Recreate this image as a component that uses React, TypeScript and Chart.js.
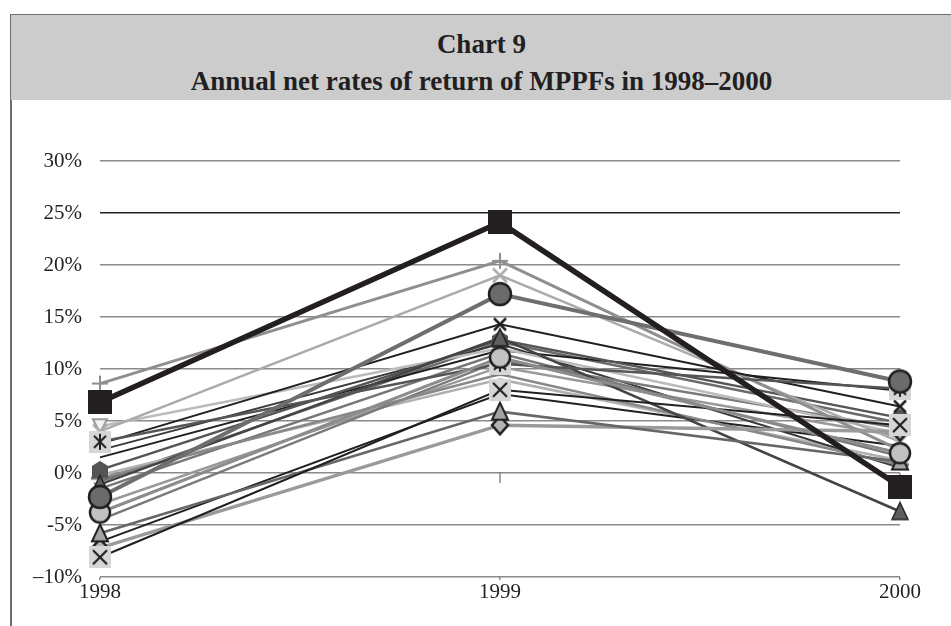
import React, { useEffect, useRef } from "react";
import { Chart, registerables } from "chart.js";

Chart.register(...registerables);

// Years on the category axis
const years = ["1998", "1999", "2000"];

// Y axis range and tick step (per cent)
const yMin = -10;
const yMax = 30;
const yStep = 5;

// Annual net rates of return, % (1998, 1999, 2000)
const fundSquare = [6.8, 24.1, -1.3];
const fundDarkCircle = [-2.3, 17.2, 8.8];
const fundLightCircle = [-3.8, 11.1, 1.9];
const fundBoxCross = [-8.1, 8.0, 4.6];
const fundBoxStar = [3.0, 10.5, 8.1];
const fundTriangle = [-5.8, 5.9, 1.1];
const fundDiamond = [-7.2, 4.6, 4.0];
const fundDarkTriangle = [-1.1, 13.0, -3.7];
const fundCross = [2.8, 14.3, 6.4];
const fundPlus = [8.6, 20.4, 2.2];
const fundLightCross = [4.0, 19.0, 3.0];
const fundPentagon = [0.3, 12.8, 5.3];
const fundInvTriangle = [4.5, 12.0, 3.8];
const fundDash = [-0.5, 9.5, 0.8];
const fundStar = [-1.5, 11.5, 1.6];
const fundA = [1.5, 11.8, 7.9];
const fundB = [-4.5, 10.8, 4.3];
const fundC = [-6.6, 7.6, 2.6];
const fundD = [-3.0, 10.2, 3.5];
const fundE = [2.2, 12.4, 0.5];
const fundF = [-0.2, 9.0, 1.2];
const fundG = [-0.8, 12.6, 4.8];

const INK = "#231f20";

function marker(size: number, draw: (c: CanvasRenderingContext2D, s: number) => void) {
  const cv = document.createElement("canvas");
  cv.width = size;
  cv.height = size;
  const c = cv.getContext("2d")!;
  draw(c, size);
  return cv;
}

function crossShape(c: CanvasRenderingContext2D, s: number, m: number, color: string, w: number) {
  c.strokeStyle = color;
  c.lineWidth = w;
  c.beginPath();
  c.moveTo(m, m);
  c.lineTo(s - m, s - m);
  c.moveTo(s - m, m);
  c.lineTo(m, s - m);
  c.stroke();
}

function plusShape(c: CanvasRenderingContext2D, s: number, m: number, color: string, w: number) {
  c.strokeStyle = color;
  c.lineWidth = w;
  c.beginPath();
  c.moveTo(s / 2, m);
  c.lineTo(s / 2, s - m);
  c.moveTo(m, s / 2);
  c.lineTo(s - m, s / 2);
  c.stroke();
}

function buildMarkers() {
  return {
    square: marker(24, (c, s) => {
      c.fillStyle = INK;
      c.fillRect(0, 0, s, s);
    }),
    darkCircle: marker(26, (c, s) => {
      c.beginPath();
      c.arc(s / 2, s / 2, 11, 0, Math.PI * 2);
      c.fillStyle = "#6b6b6b";
      c.fill();
      c.lineWidth = 2.5;
      c.strokeStyle = INK;
      c.stroke();
    }),
    lightCircle: marker(24, (c, s) => {
      c.beginPath();
      c.arc(s / 2, s / 2, 10, 0, Math.PI * 2);
      c.fillStyle = "#c2c2c2";
      c.fill();
      c.lineWidth = 2.5;
      c.strokeStyle = INK;
      c.stroke();
    }),
    boxCross: marker(22, (c, s) => {
      c.fillStyle = "#d6d6d6";
      c.fillRect(0, 0, s, s);
      crossShape(c, s, 4, INK, 2.2);
    }),
    boxStar: marker(22, (c, s) => {
      c.fillStyle = "#d6d6d6";
      c.fillRect(0, 0, s, s);
      crossShape(c, s, 5, INK, 2);
      c.beginPath();
      c.moveTo(s / 2, 3);
      c.lineTo(s / 2, s - 3);
      c.stroke();
    }),
    triangle: marker(22, (c, s) => {
      c.beginPath();
      c.moveTo(s / 2, 2);
      c.lineTo(s - 3, s - 3);
      c.lineTo(3, s - 3);
      c.closePath();
      c.fillStyle = "#a3a3a3";
      c.fill();
      c.lineWidth = 2;
      c.strokeStyle = INK;
      c.stroke();
    }),
    diamond: marker(22, (c, s) => {
      c.beginPath();
      c.moveTo(s / 2, 2);
      c.lineTo(s - 3, s / 2);
      c.lineTo(s / 2, s - 2);
      c.lineTo(3, s / 2);
      c.closePath();
      c.fillStyle = "#b3b3b3";
      c.fill();
      c.lineWidth = 2.5;
      c.strokeStyle = INK;
      c.stroke();
    }),
    darkTriangle: marker(22, (c, s) => {
      c.beginPath();
      c.moveTo(s / 2, 2);
      c.lineTo(s - 3, s - 3);
      c.lineTo(3, s - 3);
      c.closePath();
      c.fillStyle = "#5e5e5e";
      c.fill();
      c.lineWidth = 1.5;
      c.strokeStyle = INK;
      c.stroke();
    }),
    cross: marker(16, (c, s) => crossShape(c, s, 2, INK, 2.5)),
    plus: marker(18, (c, s) => plusShape(c, s, 1, "#8f8f8f", 2)),
    lightCross: marker(18, (c, s) => crossShape(c, s, 2, "#ababab", 2.5)),
    pentagon: marker(20, (c, s) => {
      c.beginPath();
      c.moveTo(s / 2, 1);
      c.lineTo(s - 2, 6);
      c.lineTo(s - 2, s - 2);
      c.lineTo(2, s - 2);
      c.lineTo(2, 6);
      c.closePath();
      c.fillStyle = "#545454";
      c.fill();
    }),
    invTriangle: marker(18, (c, s) => {
      c.beginPath();
      c.moveTo(2, 2);
      c.lineTo(s - 2, 2);
      c.lineTo(s / 2, s - 2);
      c.closePath();
      c.fillStyle = "#f2f2f2";
      c.fill();
      c.lineWidth = 2;
      c.strokeStyle = "#9a9a9a";
      c.stroke();
    }),
    dash: marker(20, (c, s) => {
      c.fillStyle = "#6f6f6f";
      c.fillRect(1, s / 2 - 1.5, s - 2, 3);
    }),
    star: marker(20, (c, s) => {
      crossShape(c, s, 4, "#8a8a8a", 2);
      c.beginPath();
      c.moveTo(s / 2, 1);
      c.lineTo(s / 2, s - 1);
      c.stroke();
    }),
  };
}

// Short tick marks on the 0% line at each year
const zeroTicks = {
  id: "zeroTicks",
  beforeDatasetsDraw(chart: any) {
    const { ctx, scales } = chart;
    const y0 = scales.y.getPixelForValue(0);
    ctx.save();
    ctx.strokeStyle = "#8a8a8a";
    ctx.lineWidth = 1.5;
    years.forEach((_, i) => {
      const x = scales.x.getPixelForValue(i);
      ctx.beginPath();
      ctx.moveTo(x, y0);
      ctx.lineTo(x, y0 + 10);
      ctx.stroke();
    });
    ctx.restore();
  },
};

export default function App() {
  const ref = useRef<HTMLCanvasElement>(null);

  useEffect(() => {
    const m = buildMarkers();
    const line = (data: number[], color: string, width: number, pt?: HTMLCanvasElement) => ({
      data,
      borderColor: color,
      backgroundColor: color,
      borderWidth: width,
      pointStyle: pt ?? "circle",
      pointRadius: pt ? 10 : 0,
      pointHoverRadius: pt ? 10 : 0,
      tension: 0,
    });

    const chart = new Chart(ref.current!, {
      type: "line",
      data: {
        labels: years,
        datasets: [
          line(fundSquare, INK, 5.5, m.square),
          line(fundDarkCircle, "#6e6e6e", 4, m.darkCircle),
          line(fundLightCircle, "#8c8c8c", 3, m.lightCircle),
          line(fundBoxCross, INK, 2, m.boxCross),
          line(fundBoxStar, "#555555", 2.5, m.boxStar),
          line(fundTriangle, "#666666", 2.5, m.triangle),
          line(fundDiamond, "#9a9a9a", 3.5, m.diamond),
          line(fundDarkTriangle, "#444444", 2.5, m.darkTriangle),
          line(fundCross, INK, 2, m.cross),
          line(fundPlus, "#8f8f8f", 3, m.plus),
          line(fundLightCross, "#ababab", 2.5, m.lightCross),
          line(fundPentagon, "#555555", 2.5, m.pentagon),
          line(fundInvTriangle, "#bbbbbb", 2.5, m.invTriangle),
          line(fundDash, "#888888", 2.5, m.dash),
          line(fundStar, "#777777", 2.5, m.star),
          line(fundA, INK, 2),
          line(fundB, "#7a7a7a", 2.5),
          line(fundC, INK, 2),
          line(fundD, "#999999", 2.5),
          line(fundE, "#3a3a3a", 2),
          line(fundF, "#b0b0b0", 2.5),
          line(fundG, "#6a6a6a", 2.5),
        ],
      },
      options: {
        responsive: false,
        animation: false,
        events: [],
        layout: { padding: { top: 61, right: 51, left: 0, bottom: 0 } },
        plugins: {
          legend: { display: false },
          title: { display: false },
          tooltip: { enabled: false },
        },
        scales: {
          x: {
            offset: false,
            border: { display: false },
            grid: { drawOnChartArea: false, drawTicks: true, tickLength: 3, color: "#8a8a8a", lineWidth: 1.5 },
            ticks: { color: INK, font: { family: "Liberation Serif", size: 21 }, padding: 0, maxRotation: 0 },
            afterFit: (s: any) => {
              s.height = 49;
            },
          },
          y: {
            min: yMin,
            max: yMax,
            border: { display: false },
            grid: {
              drawTicks: false,
              lineWidth: 1.5,
              color: (c: any) => (c.tick && c.tick.value === 25 ? INK : "#8a8a8a"),
            },
            ticks: {
              stepSize: yStep,
              padding: 18,
              color: INK,
              font: { family: "Liberation Serif", size: 21 },
              callback: (v: any) => (v === -10 ? "\u201310%" : `${v}%`),
            },
            afterFit: (s: any) => {
              s.width = 100;
            },
          },
        },
      },
      plugins: [zeroTicks],
    });
    return () => chart.destroy();
  }, []);

  return (
    <div style={{ position: "fixed", left: 0, top: 0, width: 951, height: 626, background: "#fff", overflow: "hidden" }}>
      <div
        style={{
          position: "absolute",
          left: 10,
          top: 14,
          width: 960,
          height: 86,
          background: "#cccccc",
          borderTop: "1.5px solid #6e6e6e",
          borderLeft: "1.5px solid #6e6e6e",
          boxSizing: "border-box",
          fontFamily: "Liberation Serif",
          fontWeight: "bold",
          color: INK,
        }}
      >
        <div style={{ position: "absolute", left: 0, width: 941, top: 13, textAlign: "center", fontSize: 27, lineHeight: "32px" }}>
          Chart 9
        </div>
        <div style={{ position: "absolute", left: 0, width: 941, top: 50, textAlign: "center", fontSize: 27, lineHeight: "32px" }}>
          Annual net rates of return of MPPFs in 1998–2000
        </div>
      </div>
      <div style={{ position: "absolute", left: 10, top: 100, width: 1.5, height: 526, background: "#6e6e6e" }} />
      <canvas ref={ref} width={951} height={526} style={{ position: "absolute", left: 0, top: 100, width: 951, height: 526 }} />
    </div>
  );
}
